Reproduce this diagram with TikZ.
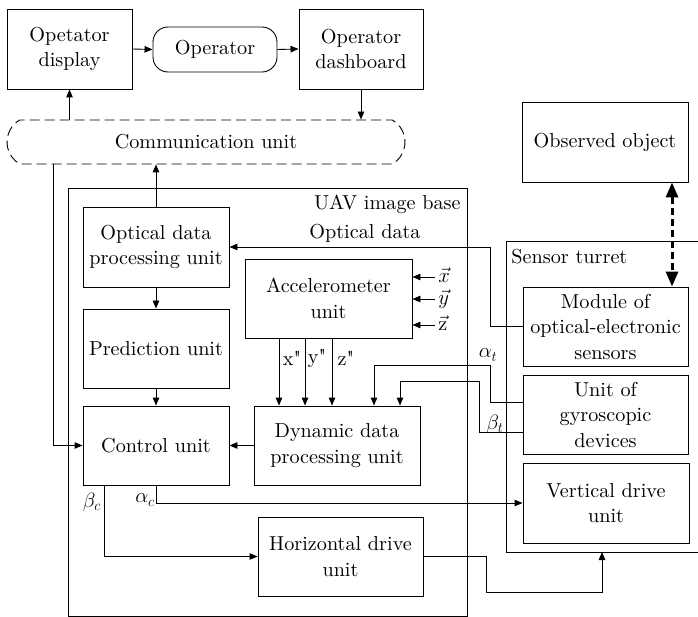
\documentclass[tikz,border=0pt]{standalone}
\usepackage{fontspec}
\setmainfont{lmroman10}[Extension=.otf, UprightFont=*-regular, ItalicFont=*-italic, BoldFont=*-bold, Ligatures=TeXOff]
\usetikzlibrary{arrows.meta,shapes.misc,calc}
\begin{document}
\begin{tikzpicture}[x=1pt,y=-1pt,
  font=\fontsize{20.2}{25.5}\selectfont,
  line width=0.9pt,
  box/.style={draw, rectangle, inner sep=0pt, align=center},
  arr/.style={-{Triangle[length=8pt,width=6.5pt]}},
  bigarr/.style={{Triangle[length=15pt,width=12pt]}-{Triangle[length=15pt,width=12pt]}, line width=3pt, dash pattern=on 7pt off 4pt},
  lbl/.style={inner sep=0pt},
]
\useasboundingbox (0,0) rectangle (698,617);

% top row
\node[box, minimum width=125pt, minimum height=80pt] (disp) at (69.5,49) {Opetator\\display};
\node[box, rounded corners=15pt, minimum width=124pt, minimum height=45pt] (oper) at (215,49.5) {Operator};
\node[box, minimum width=124pt, minimum height=80pt] (dash) at (361,49) {Operator\\dashboard};
\node[draw, rounded rectangle, rounded rectangle arc length=120, dash pattern=on 10pt off 5pt,
      minimum width=398pt, minimum height=44pt, inner sep=0pt] (comm) at (206,142) {Communication unit};
\node[box, minimum width=166pt, minimum height=80pt] (obs) at (605,142) {Observed object};

% UAV frame
\node[draw, minimum width=399pt, minimum height=428pt, inner sep=0pt] (uav) at (267.5,402) {};
\node[lbl, anchor=east] (uavl) at (461,204) {UAV image base};

\node[box, minimum width=146pt, minimum height=80pt] (odp) at (156,247) {Optical data\\processing unit};
\node[box, minimum width=146pt, minimum height=79pt] (pred) at (156,348.5) {Prediction unit};
\node[box, minimum width=146pt, minimum height=79pt] (ctrl) at (156,445.5) {Control unit};
\node[box, minimum width=167pt, minimum height=79pt] (acc) at (328.5,298.5) {Accelerometer\\unit};
\node[box, minimum width=166pt, minimum height=79pt] (dyn) at (337,445.5) {Dynamic data\\processing unit};
\node[box, minimum width=165pt, minimum height=79pt] (hor) at (340.5,556.5) {Horizontal drive\\unit};

% sensor turret frame
\coordinate (t1) at (698,241);
\coordinate (t2) at (506,241);
\coordinate (t3) at (506,552);
\coordinate (t4) at (698,552);
\draw (t1) -- (t2) -- (t3) -- (t4);
\node[lbl, anchor=west] (turl) at (511,257) {Sensor turret};

\node[box, minimum width=165pt, minimum height=79pt] (mod) at (605.5,326.5) {Module of\\optical-electronic\\sensors};
\node[box, minimum width=165pt, minimum height=79pt] (gyro) at (605.5,414.5) {Unit of\\gyroscopic\\devices};
\node[box, minimum width=166pt, minimum height=80pt] (vert) at (606,503) {Vertical drive\\unit};

% top connectors
\draw[arr] (disp.east) -- (oper.west);
\draw[arr] (oper.east) -- (dash.west);
\draw[arr] (dash.south) -- (dash.south |- comm.north);
\draw[arr] (disp.south |- comm.north) -- (disp.south);
\draw[arr] (odp.north) -- (odp.north |- comm.south);
\coordinate (cl) at (53,164);
\draw[arr] (cl) |- (ctrl.west);

% observed object <-> module
\coordinate (dx) at (672,0);
\draw[bigarr] (obs.south -| dx) -- (mod.north -| dx);

% inner chain
\draw[arr] (odp.south) -- (pred.north);
\draw[arr] (pred.south) -- (ctrl.north);
\draw[arr] (dyn.west) -- (ctrl.east);

% accelerometer outputs
\coordinate (ax) at (279,0);
\coordinate (ay) at (305,0);
\coordinate (az) at (332,0);
\draw[arr] (acc.south -| ax) -- (dyn.north -| ax);
\draw[arr] (acc.south -| ay) -- (dyn.north -| ay);
\draw[arr] (acc.south -| az) -- (dyn.north -| az);
\node[lbl] (lx) at (292,358) {x"};
\node[lbl] (ly) at (317,358) {y"};
\node[lbl] (lz) at (346,358) {z"};

% accelerometer inputs
\coordinate (ix) at (435,277);
\coordinate (iy) at (435,299);
\coordinate (iz) at (435,325);
\draw[arr] (ix) -- (acc.east |- ix);
\draw[arr] (iy) -- (acc.east |- iy);
\draw[arr] (iz) -- (acc.east |- iz);
\node[lbl, anchor=west] (vx) at (438,275) {$\vec{x}$};
\node[lbl, anchor=west] (vy) at (438,299) {$\vec{y}$};
\node[lbl, anchor=west] (vz) at (438,323) {$\vec{\mathrm{z}}$};

% optical data
\coordinate (od) at (490,247);
\draw[arr] (mod.west) -| (od) -- (odp.east);
\node[lbl] (odl) at (365,233) {Optical data};

% gyro signals
\coordinate (at) at (490,365);
\coordinate (atx) at (374,0);
\draw[arr] ($(gyro.west)+(0,-12.5)$) -| (at) -| (dyn.north -| atx);
\node[lbl] (atl) at (488,355) {$\alpha_t$};
\coordinate (bt) at (479,381);
\coordinate (btx) at (400,0);
\draw[arr] ($(gyro.west)+(0,17.5)$) -| (bt) -| (dyn.north -| btx);
\node[lbl] (btl) at (495,424) {$\beta_t$};

% control outputs
\draw[arr] (ctrl.south) |- (vert.west);
\node[lbl] (acl) at (145,500) {$\alpha_c$};
\coordinate (bx) at (104,0);
\draw[arr] (ctrl.south -| bx) |- (hor.west);
\node[lbl] (bcl) at (92,502) {$\beta_c$};

% horizontal drive -> turret
\coordinate (h1) at (486,592);
\coordinate (h2) at (602,552);
\draw[arr] (hor.east) -| (h1) -| (h2);
\end{tikzpicture}
\end{document}
